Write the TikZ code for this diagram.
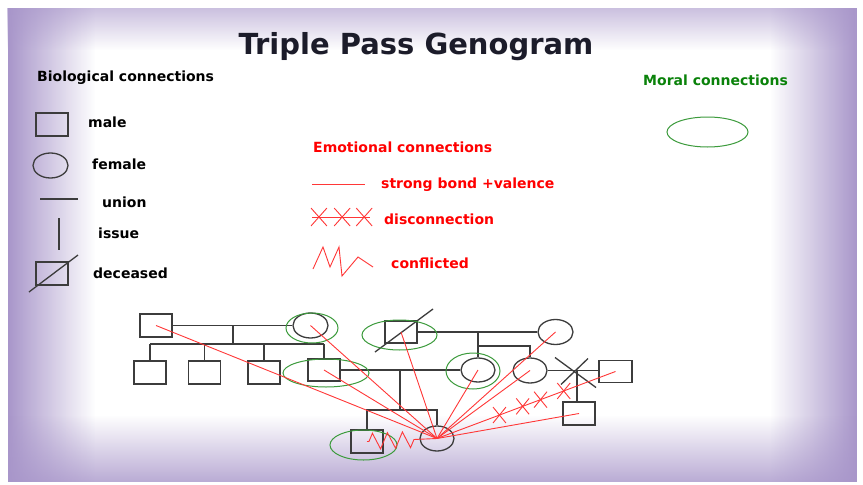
\documentclass[tikz,border=0pt]{standalone}
\usepackage{fontspec}
\setmainfont{DejaVu Sans}
\usetikzlibrary{calc,fadings,shapes.geometric,shapes.misc,decorations.pathmorphing}
\definecolor{Ink}{RGB}{28,28,42}
\definecolor{KinGrey}{RGB}{60,60,60}
\definecolor{BondRed}{RGB}{255,55,55}
\definecolor{TextRed}{RGB}{255,0,0}
\definecolor{MoralGreen}{RGB}{60,155,60}
\definecolor{TextGreen}{RGB}{10,130,10}
\definecolor{Lilac}{RGB}{168,150,202}
\tikzfading[name=edgefade,left color=transparent!0,middle color=transparent!78,right color=transparent!100]
\tikzset{
  heading/.style={font=\bfseries\fontsize{29}{34}\selectfont,text=Ink,anchor=base,inner sep=0pt},
  legendtext/.style={font=\bfseries\fontsize{14}{16}\selectfont,text=black,anchor=west,inner sep=0pt,text height=10pt,text depth=3pt},
  kin/.style={draw=KinGrey,line width=1.3pt},
  male/.style={rectangle,kin,minimum width=32pt,minimum height=23pt,inner sep=0pt},
  female/.style={ellipse,kin,minimum width=35pt,minimum height=25pt,inner sep=0pt},
  moral/.style={ellipse,draw=MoralGreen,line width=1pt,inner sep=0pt},
  bond/.style={draw=BondRed,line width=0.9pt},
  xmark/.style={cross out,draw=BondRed,line width=0.9pt,minimum width=12pt,minimum height=15pt,inner sep=0pt},
  clash/.style={bond,decorate,decoration={zigzag,segment length=15pt,amplitude=8pt,pre length=2pt,post length=18pt}},
  glow/.style={fill=Lilac,path fading=edgefade}
}
\begin{document}
\begin{tikzpicture}[x=1pt,y=-1pt]
  \useasboundingbox (0,0) rectangle (863,485);
  \fill[white] (0,0) rectangle (863,485);
  % slide with a lilac edge glow
  \fill[white] (8,8) rectangle (857,482);
  \fill[glow] (8,8) rectangle (95,482);
  \fill[glow,fading angle=180] (770,8) rectangle (857,482);
  \fill[glow,fading angle=-90,fill opacity=.6] (8,8) rectangle (857,50);
  \fill[glow,fading angle=90,fill opacity=.8] (8,415) rectangle (857,482);

  % headings
  \node[heading] (title) at (416,54) {Triple Pass Genogram};
  \node[legendtext] (bio) at (37,78) {Biological connections};
  \node[legendtext,text=TextRed] (emo) at (313,149) {Emotional connections};
  \node[legendtext,text=TextGreen] (mor) at (643,82) {Moral connections};

  % biological key
  \node[male] (kmale) at (52,124.5) {};
  \node[female] (kfemale) at (50.5,165.5) {};
  \node[male] (kdead) at (52,273.5) {};
  \coordinate (ku1) at (40,199);
  \coordinate (ku2) at (78,199);
  \coordinate (ki1) at (59,218);
  \coordinate (ki2) at (59,250);
  \draw[kin] (ku1) -- (ku2);
  \draw[kin] (ki1) -- (ki2);
  \draw[kin] ($(kdead)+(-23,18.5)$) -- ($(kdead)+(26,-18.5)$);
  \foreach \x/\y/\txt in {88/124/male,92/166/female,102/204/union,98/235/issue,93/275/deceased}
    \node[legendtext] (key-\txt) at (\x,\y) {\txt};

  % emotional key
  \coordinate (ks1) at (312,184);
  \coordinate (ks2) at (365,184);
  \coordinate (kd1) at (312,217);
  \coordinate (kd2) at (370,217);
  \draw[bond] (ks1) -- (ks2);
  \draw[bond] (kd1) -- (kd2) node[xmark,minimum width=15pt,minimum height=17pt,pos=.12] (kx1) {}
    node[xmark,minimum width=15pt,minimum height=17pt,pos=.52] (kx2) {}
    node[xmark,minimum width=15pt,minimum height=17pt,pos=.9] (kx3) {};
  \draw[bond] (313,269) -- (323,247) -- (330,267) -- (339,247) -- (342,276) -- (358,257) -- (373,267);
  \foreach \nm/\x/\y/\txt in {strong/381/185/strong bond +valence,cut/384/221/disconnection,conf/391/265/conflicted}
    \node[legendtext,text=TextRed] (key-\nm) at (\x,\y) {\txt};

  % moral key
  \node[moral,minimum width=81pt,minimum height=30pt] (kmoral) at (707.5,132) {};

  % family: first generation
  \node[male] (A) at (156,325.5) {};
  \node[female] (B) at (310.5,325.5) {};
  \node[male,minimum height=22pt] (E) at (401,332) {};
  \node[female] (F) at (555.5,332) {};
  \draw[kin] ($(E)+(-26,20)$) -- ($(E)+(32,-23)$);

  % second generation
  \node[male] (c1) at (150,372.5) {};
  \node[male] (c2) at (204.5,372.5) {};
  \node[male] (c3) at (264,372.5) {};
  \node[male,minimum height=22pt] (c4) at (324,370) {};
  \node[female,minimum width=34pt,minimum height=24pt] (D) at (478,370) {};
  \node[female,minimum width=34pt] (G) at (530,370.5) {};
  \node[male,minimum width=33pt,minimum height=22pt] (H) at (615.5,371.5) {};

  % third generation
  \node[male] (I) at (579,413.5) {};
  \node[male] (J) at (367,441.5) {};
  \node[female,minimum width=34pt] (K) at (437,438.5) {};

  % unions and issue lines
  \coordinate (abU) at (233,325.5);
  \coordinate (abS) at (233,344);
  \draw[kin] (A.east) -- (B.west);
  \draw[kin] (abU) -- (abS);
  \draw[kin] (c1.north |- abS) -- (c4.north |- abS);
  \foreach \c in {c1,c2,c3,c4}
    \draw[kin] (\c.north |- abS) -- (\c.north);

  \coordinate (efU) at (478,332);
  \coordinate (efB) at (478,346);
  \draw[kin] (E.east) -- (F.west);
  \draw[kin] (efU) -- (D.north);
  \draw[kin] (efB) -| (G.north);

  \coordinate (cdU) at (400,370);
  \coordinate (cdS) at (400,410);
  \draw[kin] (c4.east) -- (D.west);
  \draw[kin] (cdU) -- (cdS);
  \draw[kin] (J.north) |- (cdS) -| (K.north);

  \coordinate (gx) at (577,370.5);
  \draw[kin] (G.east) -- (G.east -| H.west);
  \draw[kin] ($(gx)+(-22,-13)$) -- ($(gx)+(19,17)$);
  \draw[kin] ($(gx)+(11,-12)$) -- ($(gx)+(-16,14)$);
  \draw[kin] (gx) -- (gx |- I.north);

  % moral rings
  \node[moral,minimum width=52pt,minimum height=30pt] (mB) at (312,328) {};
  \node[moral,minimum width=86pt,minimum height=28pt] (mC) at (326,373) {};
  \node[moral,minimum width=75pt,minimum height=30pt] (mE) at (399.5,335) {};
  \node[moral,minimum width=54pt,minimum height=36pt] (mD) at (473,371) {};
  \node[moral,minimum width=67pt,minimum height=30pt] (mJ) at (363.5,445) {};

  % emotional ties of the focus person
  \foreach \n in {A,B,c4,E,D,F,G,I}
    \draw[bond] (\n.center) -- (K.center);
  \draw[bond] (H.center) -- (K.center) node[xmark,pos=.29] (x1) {} node[xmark,pos=.42] (x2) {}
    node[xmark,pos=.52] (x3) {} node[xmark,pos=.65] (x4) {};
  \draw[clash] (J.center) -- (K.center);
\end{tikzpicture}
\end{document}
